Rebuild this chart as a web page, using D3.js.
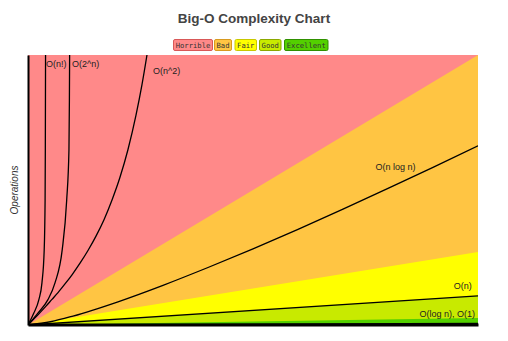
<!DOCTYPE html>
<html>
<head>
<meta charset="utf-8">
<script src="https://cdn.jsdelivr.net/npm/d3@7"></script>
<style>
  body { margin: 0; background: #fff; }
  svg { display: block; font-family: "Liberation Sans", Arial, sans-serif; }
</style>
</head>
<body>
<svg id="chart" width="508" height="341"></svg>
<script>
// legend / zones
const zoneNames = ['Horrible', 'Bad', 'Fair', 'Good', 'Excellent'];
const zoneColors = ['#ff8989', '#ffc543', '#ffff00', '#c8ea00', '#53d000'];
const zoneBorders = ['#d85858', '#d89a20', '#c8c800', '#8ca800', '#2f9000'];
// zone boundaries (ops reached at n = 100): horrible|bad, bad|fair, fair|good, good|excellent
const boundaries = [1000, 270, 108, 26];

// curves: [n, operations]
const factorial = [[0, 0], [1.3, 44], [2.4, 93], [3.1, 156], [3.6, 278], [3.8, 463], [3.85, 648], [3.9, 1000]];
const exponential = [[0, 0], [2.2, 44], [4.4, 93], [6.0, 156], [7.6, 278], [8.6, 463], [9.1, 648], [9.2, 833], [9.25, 1000]];
const quadratic = [[0, 0], [1.33, 23], [2.67, 46], [4.0, 70], [5.33, 95], [6.67, 120], [8.22, 152], [9.78, 186],
  [11.56, 229], [13.33, 276], [15.11, 329], [16.89, 390], [18.67, 463], [20.44, 547], [22.22, 650], [24.0, 777],
  [25.33, 890], [26.44, 1000]];
const nlogn = [[0, 0], [5, 12], [10, 33], [20, 86], [30, 147], [40, 213], [50, 282], [60, 354], [70, 429], [80, 506], [90, 584], [100, 664]];
const linear = [[0, 0], [100, 108]];
const logn = [[1, 0], [100, 6]];
const constant = [[0, 1], [100, 1]];

const labels = [
  { text: 'O(n!)', n: 4.0, ops: 955 },
  { text: 'O(2^n)', n: 9.8, ops: 955 },
  { text: 'O(n^2)', n: 27.8, ops: 930 },
  { text: 'O(n log n)', n: 77.2, ops: 574 },
  { text: 'O(n)', n: 94.6, ops: 133 },
  { text: 'O(log n), O(1)', n: 87, ops: 30 }
];

const svg = d3.select('#chart');
const margin = { left: 28, right: 30, top: 55, bottom: 16 };
const W = 508, H = 341;

const x = d3.scaleLinear().domain([0, 100]).range([margin.left, W - margin.right]);
const y = d3.scaleLinear().domain([0, 1000]).range([H - margin.bottom, margin.top]);

svg.append('defs').append('clipPath').attr('id', 'plot')
  .append('rect')
  .attr('x', x(0)).attr('y', y(1000))
  .attr('width', x(100) - x(0)).attr('height', y(0) - y(1000));

const plot = svg.append('g').attr('clip-path', 'url(#plot)');

// background = horrible zone
plot.append('rect')
  .attr('x', x(0)).attr('y', y(1000))
  .attr('width', x(100) - x(0)).attr('height', y(0) - y(1000))
  .attr('fill', zoneColors[0]);

// wedges from the origin, each one painted over the previous
plot.selectAll('path.wedge')
  .data(boundaries)
  .join('path')
  .attr('class', 'wedge')
  .attr('d', (d) => d3.line()([[x(0), y(0)], [x(100), y(d)], [x(100), y(0)]]))
  .attr('fill', (d, i) => zoneColors[i + 1]);

const line = d3.line()
  .x((d) => x(d[0]))
  .y((d) => y(d[1]))
  .curve(d3.curveMonotoneX);

[factorial, exponential, quadratic, nlogn, linear, logn, constant].forEach((c) => {
  plot.append('path')
    .attr('d', line(c))
    .attr('fill', 'none')
    .attr('stroke', '#000')
    .attr('stroke-width', 1.3);
});

svg.selectAll('text.lbl')
  .data(labels)
  .join('text')
  .attr('class', 'lbl')
  .attr('x', (d) => x(d.n))
  .attr('y', (d) => y(d.ops))
  .attr('font-size', 9)
  .attr('fill', '#222')
  .text((d) => d.text);

// axes, no ticks
svg.append('g')
  .attr('transform', `translate(${x(0)},0)`)
  .call(d3.axisLeft(y).ticks(0).tickSize(0).tickSizeOuter(0))
  .select('.domain').attr('stroke', '#000').attr('stroke-width', 2);

svg.append('g')
  .attr('transform', `translate(0,${y(0) - 0.5})`)
  .call(d3.axisBottom(x).ticks(0).tickSize(0).tickSizeOuter(0))
  .select('.domain').attr('stroke', '#000').attr('stroke-width', 3);

svg.append('text')
  .attr('transform', `translate(18,${(y(0) + y(1000)) / 2}) rotate(-90)`)
  .attr('text-anchor', 'middle')
  .attr('font-size', 10)
  .attr('font-style', 'italic')
  .attr('fill', '#333')
  .text('Operations');

svg.append('text')
  .attr('x', 254).attr('y', 23)
  .attr('text-anchor', 'middle')
  .attr('font-size', 13.5)
  .attr('font-weight', 'bold')
  .attr('fill', '#444')
  .text('Big-O Complexity Chart');

// legend
const legendX = [173, 214, 234.5, 259, 284];
const legendW = [39, 17, 21.5, 21.5, 43.5];
const legend = svg.append('g');
zoneNames.forEach((name, i) => {
  legend.append('rect')
    .attr('x', legendX[i] + 0.5).attr('y', 39.5)
    .attr('width', legendW[i]).attr('height', 11)
    .attr('rx', 1.5)
    .attr('fill', zoneColors[i])
    .attr('stroke', zoneBorders[i]);
  legend.append('text')
    .attr('x', legendX[i] + 0.5 + legendW[i] / 2).attr('y', 47.8)
    .attr('text-anchor', 'middle')
    .attr('font-family', '"DejaVu Sans Mono", "Liberation Mono", monospace')
    .attr('font-size', 7.2)
    .attr('fill', '#333')
    .text(name);
});
</script>
</body>
</html>
